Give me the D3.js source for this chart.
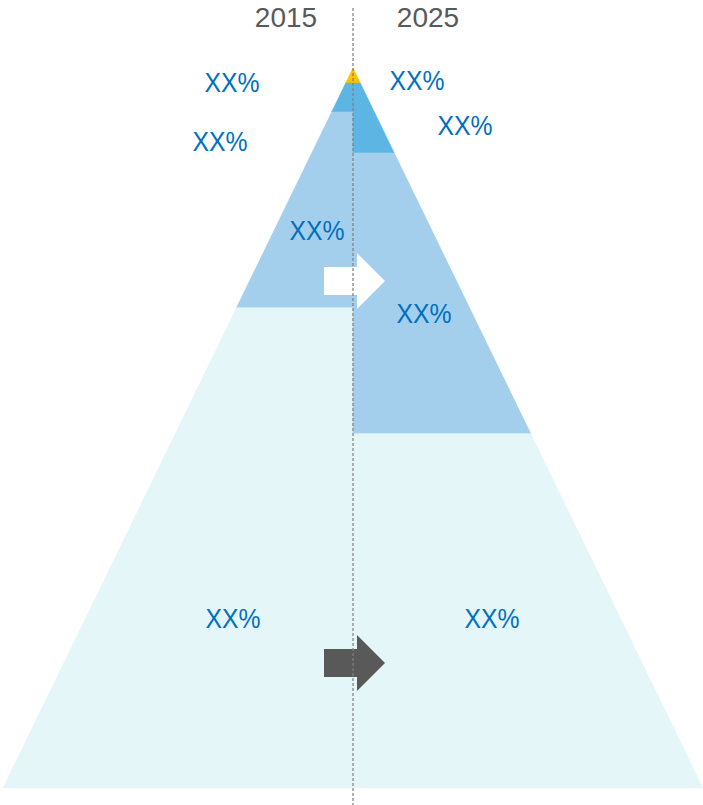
<!DOCTYPE html>
<html>
<head>
<meta charset="utf-8">
<script src="https://cdn.jsdelivr.net/npm/d3@7"></script>
<style>
  body { margin: 0; background: #fff; }
  svg { display: block; }
</style>
</head>
<body>
<svg id="chart" width="703" height="805"></svg>
<script>
// years (left half / right half)
const years = ["2015", "2025"];
// layer names, top to bottom
const layers = ["top", "upper", "middle", "base"];
// cumulative depth of each layer's bottom edge (share of pyramid height)
const depth2015 = [0.021, 0.061, 0.333, 1];
const depth2025 = [0.021, 0.118, 0.508, 1];
// label texts
const labels2015 = ["XX%", "XX%", "XX%", "XX%"];
const labels2025 = ["XX%", "XX%", "XX%", "XX%"];

const colors = ["#FFC000", "#5DB5E4", "#A3CFEC", "#E4F6F8"];

const svg = d3.select("#chart");

// vertical scale: 0 = apex, 1 = base
const y = d3.scaleLinear().domain([0, 1]).range([68, 788]);
// horizontal scale: -1 = left base corner, 1 = right base corner
const x = d3.scaleLinear().domain([-1, 1]).range([3, 703]);

// one half of a pyramid band between depth a and b, side = -1 or 1
function band(a, b, side) {
  return [
    [x(0), y(a)],
    [x(side * a), y(a)],
    [x(side * b), y(b)],
    [x(0), y(b)]
  ];
}

const line = d3.line();

[depth2015, depth2025].forEach((depths, i) => {
  const side = i === 0 ? -1 : 1;
  const g = svg.append("g").attr("class", "half-" + years[i]);
  g.selectAll("path")
    .data(depths)
    .enter()
    .append("path")
    .attr("d", (d, j) => line(band(j === 0 ? 0 : depths[j - 1], d, side)) + "Z")
    .attr("fill", (d, j) => colors[j])
    .attr("stroke", (d, j) => colors[j])
    .attr("stroke-width", 0.5);
});

// percent labels (placed by hand around each band)
const labelPos2015 = [[232, 82], [220, 141], [317, 230], [233, 618]];
const labelPos2025 = [[417, 80], [465, 125], [424, 313], [492, 618]];

const lab = svg.append("g")
  .attr("font-family", "Liberation Sans, Arial, sans-serif")
  .attr("font-size", 28)
  .attr("fill", "#0070C0")
  .attr("text-anchor", "middle")
  .attr("dominant-baseline", "central");

lab.selectAll(".l15")
  .data(labels2015)
  .enter()
  .append("text")
  .attr("class", "l15")
  .attr("x", (d, i) => labelPos2015[i][0])
  .attr("y", (d, i) => labelPos2015[i][1])
  .attr("textLength", 55)
  .attr("lengthAdjust", "spacingAndGlyphs")
  .text((d) => d);

lab.selectAll(".l25")
  .data(labels2025)
  .enter()
  .append("text")
  .attr("class", "l25")
  .attr("x", (d, i) => labelPos2025[i][0])
  .attr("y", (d, i) => labelPos2025[i][1])
  .attr("textLength", 55)
  .attr("lengthAdjust", "spacingAndGlyphs")
  .text((d) => d);

// arrows
function arrow(cy, fill) {
  const pts = [
    [324, cy - 14], [357, cy - 14], [357, cy - 28], [385, cy],
    [357, cy + 28], [357, cy + 14], [324, cy + 14]
  ];
  svg.append("path").attr("d", line(pts) + "Z").attr("fill", fill);
}
arrow(281, "#FFFFFF");
arrow(663, "#595959");

// center dashed line
svg.append("line")
  .attr("x1", x(0)).attr("x2", x(0))
  .attr("y1", 8).attr("y2", 805)
  .attr("stroke", "#7F7F7F")
  .attr("stroke-width", 1.2)
  .attr("stroke-dasharray", "3,2");

// year labels
svg.selectAll(".year")
  .data(years)
  .enter()
  .append("text")
  .attr("class", "year")
  .attr("x", (d, i) => (i === 0 ? 286 : 428))
  .attr("y", 17)
  .attr("text-anchor", "middle")
  .attr("dominant-baseline", "central")
  .attr("font-family", "Liberation Sans, Arial, sans-serif")
  .attr("font-size", 28)
  .attr("fill", "#595959")
  .text((d) => d);
</script>
</body>
</html>
